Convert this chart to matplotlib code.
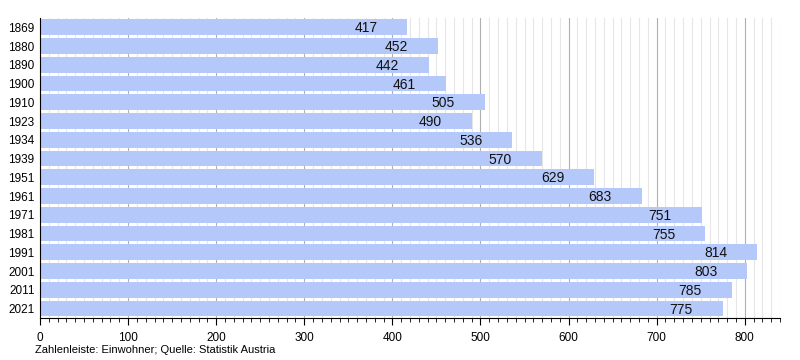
import matplotlib.pyplot as plt
import numpy as np
from matplotlib.ticker import MultipleLocator

plt.rcParams['font.family'] = ['Liberation Sans', 'DejaVu Sans']

years = ['1869', '1880', '1890', '1900', '1910', '1923', '1934', '1939',
         '1951', '1961', '1971', '1981', '1991', '2001', '2011', '2021']
population = [417, 452, 442, 461, 505, 490, 536, 570,
              629, 683, 751, 755, 814, 803, 785, 775]

fig = plt.figure(figsize=(8, 3.6), dpi=100)
ax = fig.add_axes([0.05, 0.117, 0.925, 0.833])

y = np.arange(len(years))
ax.barh(y, population, height=0.84, color='#b4c8fa', zorder=2)

for yi, val in zip(y, population):
    ax.annotate(str(val), xy=(val, yi), xytext=(-30, -1), textcoords='offset pixels',
                ha='right', va='center', fontsize=10, color='#111111', zorder=3)

# vertical grid: light every 10, darker every 100
for gx in range(10, 841, 10):
    c = '#b0b0b0' if gx % 100 == 0 else '#e6e6e6'
    ax.axvline(gx, color=c, lw=0.8, zorder=1)

ax.set_xlim(0, 840)
ax.set_ylim(len(years) - 0.5, -0.5)
ax.set_yticks(y)
ax.set_yticklabels(years, fontsize=8.5)
ax.tick_params(axis='y', length=0, pad=4)
ax.xaxis.set_major_locator(MultipleLocator(100))
ax.xaxis.set_minor_locator(MultipleLocator(10))
ax.tick_params(axis='x', which='major', length=5, labelsize=8.5, direction='out', pad=5)
ax.tick_params(axis='x', which='minor', length=3, direction='out')

ax.spines['top'].set_visible(False)
ax.spines['right'].set_visible(False)

fig.text(0.044, 0.02, 'Zahlenleiste: Einwohner; Quelle: Statistik Austria', fontsize=8)

fig.savefig('out.png', dpi=100)
